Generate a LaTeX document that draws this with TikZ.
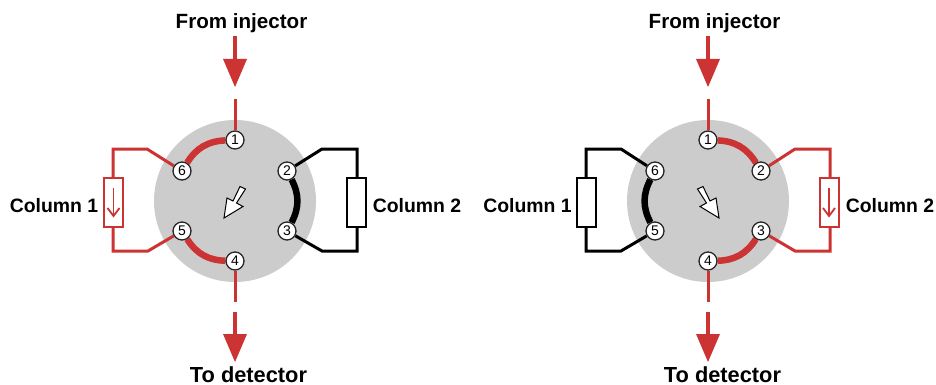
\documentclass[tikz,border=0pt]{standalone}
\usepackage{fontspec}
\setmainfont{Liberation Sans}
\definecolor{flowred}{HTML}{CC3333}
\definecolor{rotor}{HTML}{CCCCCC}
\pgfdeclarelayer{discs}
\pgfdeclarelayer{lines}
\pgfsetlayers{discs,lines,main}
\tikzset{
  x=1pt,y=-1pt,
  lbl/.style={inner sep=0pt,anchor=base,font=\fontsize{#1}{22}\selectfont\bfseries},
  port/.style={circle,draw=black!85,line width=1.3pt,fill=white,minimum size=18pt,inner sep=0pt,font=\fontsize{14}{14}\selectfont},
  disc/.style={circle,fill=rotor,minimum size=162pt,inner sep=0pt},
  thinred/.style={draw=flowred,line width=3pt},
  thinblack/.style={draw=black,line width=3pt},
  stem/.style={draw=flowred,line width=3.6pt},
  bridge/.style={line width=6.5pt},
  headred/.style={fill=flowred,draw=none},
  colbox/.style={rectangle,fill=white,minimum width=19pt,minimum height=49pt,inner sep=0pt,line width=2pt},
  colarrow/.style={draw=flowred,line width=1.8pt},
  pointer/.style={fill=white,draw=black,line width=1pt,line join=miter}
}
\begin{document}
\begin{tikzpicture}
\useasboundingbox (0,0) rectangle (936,385);
% ---------- left valve
\begin{pgfonlayer}{discs}
\node[disc] (La) at (235,201) {};
\node[disc] (Ra) at (708,201) {};
\end{pgfonlayer}
\node[port] (L1) at (235,140) {1};
\node[port] (L2) at (287,171) {2};
\node[port] (L3) at (287,231) {3};
\node[port] (L4) at (235,261) {4};
\node[port] (L5) at (182,231) {5};
\node[port] (L6) at (182,171) {6};
\coordinate (Lin) at (235,99);
\coordinate (Lout) at (235,302);
\coordinate (Lc1a) at (147,149);
\coordinate (Lc1b) at (113,149);
\coordinate (Lc1c) at (113,251);
\coordinate (Lc1d) at (148,251);
\coordinate (Lc2a) at (322,149);
\coordinate (Lc2b) at (357,149);
\coordinate (Lc2c) at (357,251);
\coordinate (Lc2d) at (322,251);
\node[colbox,draw=flowred] (LC1) at (113.5,202) {};
\node[colbox,draw=black] (LC2) at (356,202) {};
\begin{pgfonlayer}{lines}
\draw[thinred] (L1) -- (Lin);
\draw[thinred] (L4) -- (Lout);
\draw[thinred] (L6) -- (Lc1a) -- (Lc1b) -- (Lc1c) -- (Lc1d) -- (L5);
\draw[thinblack] (L2) -- (Lc2a) -- (Lc2b) -- (Lc2c) -- (Lc2d) -- (L3);
\draw[flowred,bridge] (L1) to[bend right=28] (L6);
\draw[flowred,bridge] (L5) to[bend right=28] (L4);
\draw[black,bridge] (L2) to[bend left=28] (L3);
\end{pgfonlayer}
\draw[colarrow] (113.5,188) -- (113.5,215);
\draw[colarrow] (107.5,208) -- (113.5,216) -- (119.5,208);
\draw[pointer] (240,186.5) -- (245.5,189) -- (236.5,203) -- (243,206.5) -- (224,218) -- (227,198) -- (233,201) -- cycle;
% ---------- right valve
\node[port] (R1) at (708,140) {1};
\node[port] (R2) at (761,171) {2};
\node[port] (R3) at (761,231) {3};
\node[port] (R4) at (708,261) {4};
\node[port] (R5) at (655,231) {5};
\node[port] (R6) at (655,171) {6};
\coordinate (Rin) at (708,99);
\coordinate (Rout) at (708,302);
\coordinate (Rc1a) at (621,149);
\coordinate (Rc1b) at (586,149);
\coordinate (Rc1c) at (586,251);
\coordinate (Rc1d) at (621,251);
\coordinate (Rc2a) at (795,149);
\coordinate (Rc2b) at (830,149);
\coordinate (Rc2c) at (830,251);
\coordinate (Rc2d) at (795,251);
\node[colbox,draw=black] (RC1) at (586.5,202) {};
\node[colbox,draw=flowred] (RC2) at (829,202) {};
\begin{pgfonlayer}{lines}
\draw[thinred] (R1) -- (Rin);
\draw[thinred] (R4) -- (Rout);
\draw[thinblack] (R6) -- (Rc1a) -- (Rc1b) -- (Rc1c) -- (Rc1d) -- (R5);
\draw[thinred] (R2) -- (Rc2a) -- (Rc2b) -- (Rc2c) -- (Rc2d) -- (R3);
\draw[flowred,bridge] (R1) to[bend left=28] (R2);
\draw[flowred,bridge] (R3) to[bend left=28] (R4);
\draw[black,bridge] (R6) to[bend right=28] (R5);
\end{pgfonlayer}
\draw[colarrow] (829,188) -- (829,215);
\draw[colarrow] (823,208) -- (829,216) -- (835,208);
\draw[pointer] (703,186.5) -- (697.5,189) -- (706.5,203) -- (700,206.5) -- (719,218) -- (716,198) -- (710,201) -- cycle;
% ---------- flow arrows
\foreach \c/\n in {235/L,708/R}{
  \coordinate (\n ta) at (\c,36);
  \coordinate (\n tb) at (\c,62);
  \draw[stem] (\n ta) -- (\n tb);
  \fill[headred] (\c-12,59) -- (\c+12,59) -- (\c,87) -- cycle;
  \coordinate (\n ba) at (\c,312);
  \coordinate (\n bb) at (\c,337);
  \draw[stem] (\n ba) -- (\n bb);
  \fill[headred] (\c-12,334) -- (\c+12,334) -- (\c,362) -- cycle;
}
% ---------- labels
\node[lbl=20.6] (t1) at (241.5,29) {From injector};
\node[lbl=20.6] (t2) at (714.5,29) {From injector};
\node[lbl=21.8] (b1) at (248.5,382) {To detector};
\node[lbl=21.8] (b2) at (722.5,382) {To detector};
\node[lbl=19.4] (c1) at (54,212.5) {Column 1};
\node[lbl=19.4] (c2) at (417,212.5) {Column 2};
\node[lbl=19.4] (c3) at (527.5,212.5) {Column 1};
\node[lbl=19.4] (c4) at (890,212.5) {Column 2};
\end{tikzpicture}
\end{document}
